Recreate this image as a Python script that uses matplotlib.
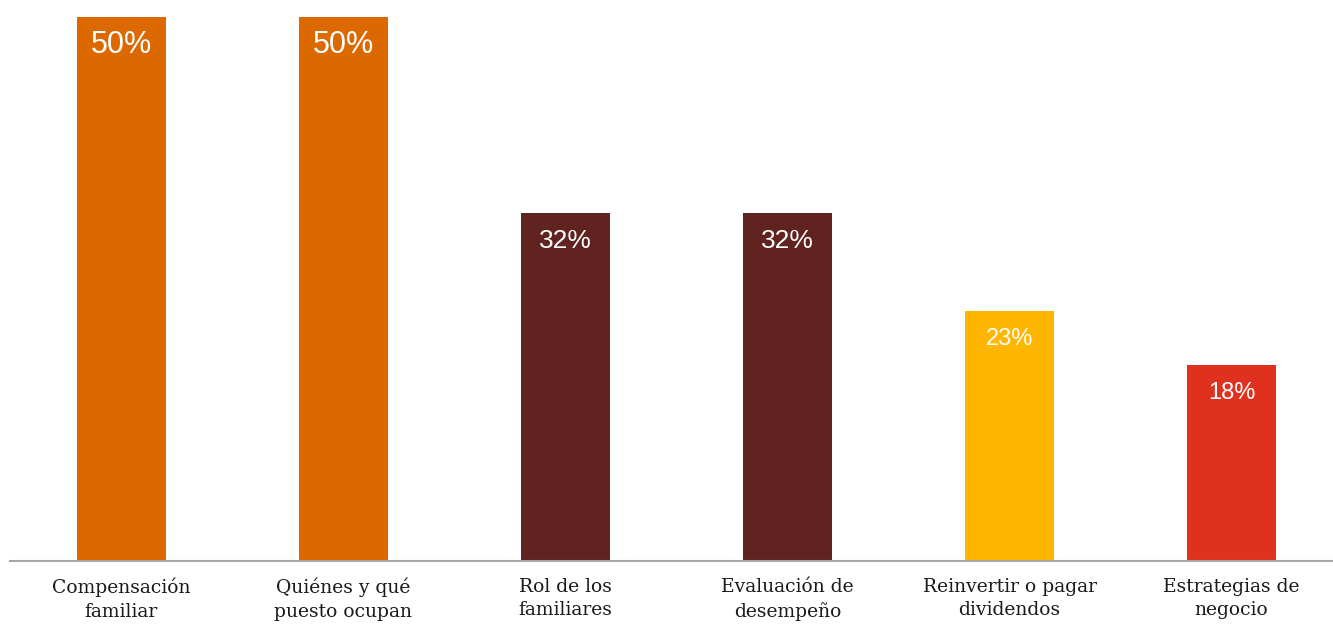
import matplotlib

matplotlib.use("Agg")
import matplotlib.pyplot as plt

categories = [
    "Compensación\nfamiliar",
    "Quiénes y qué\npuesto ocupan",
    "Rol de los\nfamiliares",
    "Evaluación de\ndesempeño",
    "Reinvertir o pagar\ndividendos",
    "Estrategias de\nnegocio",
]
values = [50, 50, 32, 32, 23, 18]
bar_colors = ["#DC6900", "#DC6900", "#602320", "#602320", "#FFB600", "#E0301E"]
label_sizes = [22, 22, 19, 19, 17, 17]

fig = plt.figure(figsize=(13.33, 6.25), dpi=100)
ax = fig.add_axes([10 / 1333, 64 / 625, 1323 / 1333, 561 / 625])

positions = range(len(values))
ax.bar(positions, values, width=0.398, color=bar_colors, zorder=2)

for pos, val, size in zip(positions, values, label_sizes):
    ax.annotate(
        f"{val}%",
        (pos, val),
        xytext=(0, -20),
        textcoords="offset points",
        ha="center",
        va="center",
        color="white",
        fontsize=size,
        family="Liberation Sans",
    )

for pos, label in zip(positions, categories):
    ax.annotate(
        label,
        (pos, 0),
        xytext=(0, -12),
        textcoords="offset points",
        ha="center",
        va="top",
        fontsize=13.5,
        family="DejaVu Serif",
        color="#1A1A1A",
        linespacing=1.4,
        annotation_clip=False,
    )

ax.set_xlim(-0.502, 5.457)
ax.set_ylim(0, 51.56)
ax.axhline(0, color="#A6A6A6", linewidth=1.5, zorder=3, clip_on=False)
ax.axis("off")

fig.savefig("out.png", dpi=100, facecolor="white")
